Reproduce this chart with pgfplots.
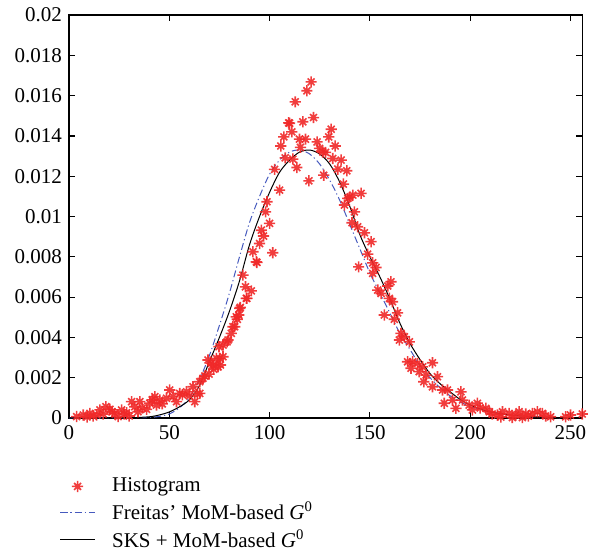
\documentclass[border=0pt]{standalone}
\usepackage{fontspec}
\setmainfont{Liberation Serif}
\usepackage{pgfplots}
\pgfplotsset{compat=1.18}
\definecolor{histred}{RGB}{240,40,40}
\definecolor{frblue}{RGB}{70,90,190}
\pgfdeclareplotmark{ast8}{%
  \pgfpathmoveto{\pgfqpoint{-\pgfplotmarksize}{0pt}}%
  \pgfpathlineto{\pgfqpoint{\pgfplotmarksize}{0pt}}%
  \pgfpathmoveto{\pgfqpoint{0pt}{-\pgfplotmarksize}}%
  \pgfpathlineto{\pgfqpoint{0pt}{\pgfplotmarksize}}%
  \pgfpathmoveto{\pgfqpoint{-0.62\pgfplotmarksize}{-0.62\pgfplotmarksize}}%
  \pgfpathlineto{\pgfqpoint{0.62\pgfplotmarksize}{0.62\pgfplotmarksize}}%
  \pgfpathmoveto{\pgfqpoint{-0.62\pgfplotmarksize}{0.62\pgfplotmarksize}}%
  \pgfpathlineto{\pgfqpoint{0.62\pgfplotmarksize}{-0.62\pgfplotmarksize}}%
  \pgfusepathqstroke}
\begin{document}
\begin{tikzpicture}
\begin{axis}[
  scale only axis,
  width=256.75pt, height=201.5pt,
  xmin=0, xmax=256, ymin=0, ymax=0.02,
  xtick={0,50,100,150,200,250},
  ytick={0,0.002,0.004,0.006,0.008,0.01,0.012,0.014,0.016,0.018,0.02},
  yticklabels={0,0.002,0.004,0.006,0.008,0.01,0.012,0.014,0.016,0.018,0.02},
  scaled y ticks=false,
  tick align=inside,
  major tick length=3.2pt,
  tick style={black, line width=0.6pt},
  axis line style={line width=0.6pt},
  xtick pos=both, ytick pos=both,
  ticklabel style={font=\fontsize{10.5}{12}\selectfont},
  /pgf/number format/assume math mode=true,
  legend style={at={(-0.03,-0.128)}, anchor=north west, draw=none, fill=none,
    font=\fontsize{10.5}{12}\selectfont, row sep=-0.5pt, column sep=6.5pt},
  legend cell align=left,
]
\addplot[only marks, mark=ast8, mark size=2.8pt, histred, line width=0.8pt, opacity=0.9] coordinates {
(3.8,0.00007) (7.1,0.00015) (9,0.00005) (10.4,0.00023) (12,0.0001) (13.8,0.00015)
(15.4,0.0004) (17,0.0002) (18.4,0.00056) (20.4,0.00043) (21.5,0.0003) (22.9,0.00023)
(24.5,0.00007) (26.2,0.0004) (27.5,0.0002) (28.7,0.00026) (30,0.0001) (31.2,0.00081)
(32.8,0.00056) (34.4,0.00031) (35.3,0.00081) (36.5,0.0005) (38.7,0.00043) (40.3,0.00073)
(41.5,0.0009) (42.8,0.00106) (43.6,0.00064) (45.3,0.00089) (46.5,0.0007) (48.6,0.00098)
(50.2,0.00139) (51.9,0.00106) (53.6,0.00081) (55.2,0.00122) (56.5,0.00115) (58.6,0.0013)
(60,0.0011) (61.8,0.00155) (62.7,0.00081) (64,0.0012) (65.2,0.00122) (65.2,0.0018)
(66.8,0.00197) (67.7,0.00208) (69.3,0.00288) (69.8,0.00218) (71,0.00271) (71.8,0.00263)
(72.1,0.00242) (73.5,0.00296) (74.3,0.00254) (74.8,0.00354) (75.1,0.00296) (75.5,0.00263)
(76.8,0.00362) (76.8,0.00304) (78.8,0.00378) (79.3,0.00387) (80.9,0.0042) (81.7,0.00453)
(82.6,0.00453) (83.4,0.00502) (83.9,0.0049) (84.7,0.00511) (85.1,0.00544) (85.4,0.00549)
(86.7,0.00709) (88,0.00651) (88.4,0.00594) (88.7,0.00594) (90.9,0.00631) (91.7,0.00825)
(93.4,0.00775) (93.7,0.00772) (95,0.00866) (95.9,0.00932) (97,0.00903) (98,0.01023)
(98.7,0.01073) (100,0.00966) (101.6,0.0082) (102.5,0.01234) (105,0.01131) (105.6,0.0135)
(107.1,0.01395) (107.8,0.01291) (109.5,0.01465) (110,0.01463) (111.1,0.0142) (111.6,0.01285)
(112.8,0.01569) (113.6,0.01243) (114.9,0.01384) (115.4,0.01343) (116.6,0.0147) (117.9,0.01384)
(118.6,0.01624) (119.6,0.01177) (120.7,0.01668) (121.9,0.01491) (123.7,0.0137) (124.9,0.01338)
(126.5,0.0132) (127,0.01205) (127.9,0.01318) (129.5,0.01395) (130.7,0.01433) (131.5,0.01288)
(132.7,0.0135) (134,0.01235) (135.7,0.0128) (136.8,0.01161) (137.3,0.01057) (138.5,0.01227)
(139,0.0109) (139.8,0.01095) (141.1,0.00969) (141.5,0.01106) (142.3,0.01023) (143.9,0.00949)
(144.4,0.0075) (145.6,0.01115) (147.3,0.00919) (148.9,0.00813) (150.6,0.00875) (151.4,0.0077)
(151.4,0.00718) (153.1,0.00747) (153.9,0.00635) (155.6,0.00618) (157.2,0.00511) (158.9,0.00655)
(159.7,0.00594) (160.5,0.00676) (161.3,0.00577) (162.2,0.0049) (163.8,0.00522) (164.7,0.00387)
(165.5,0.0042) (167.2,0.00403) (168.8,0.00279) (169.7,0.00378) (170.5,0.00247) (171.3,0.00279)
(173.8,0.00271) (174.6,0.0023) (176.3,0.00254) (176.9,0.0018) (178,0.00213) (181.2,0.00274)
(181.2,0.00155) (183.7,0.00205) (186.2,0.00139) (187.1,0.00073) (188.7,0.00139) (191.2,0.00089)
(192.9,0.00048) (195.4,0.0013) (196.2,0.00089) (199.5,0.00064) (201.1,0.0004) (203.6,0.00073)
(205,0.0005) (207.8,0.00048) (209.5,0.00031) (211,0.0002) (213.6,0.00015) (215.3,0.00005)
(216.1,0.00031) (219.4,0.00023) (221,0.00002) (222.7,0.00015) (224.4,0.00031) (226,0.00002)
(227.7,0.0002) (229,0.0001) (231,0.00023) (233.5,0.00031) (236,0.00023) (237.7,0.0001)
(240.1,0.00006) (247.6,0.00006) (250,0.00015) (255.9,0.0002)
};
\addlegendentry{Histogram}
\addplot[frblue, line width=0.5pt, dash pattern=on 3.5pt off 1.5pt on 0.6pt off 1.5pt, smooth, tension=0.5] coordinates {
(0,0) (20,0) (30,0.00001) (40,0.00003) (45,0.00008) (50,0.0002) (55,0.0005) (60,0.0010)
(65,0.0019) (70,0.0031) (75,0.0046) (80,0.0062) (85,0.0080) (90,0.0097) (95,0.0110)
(100,0.0121) (105,0.0128) (110,0.0132) (115,0.0133) (120,0.0131) (125,0.0126) (130,0.0118)
(135,0.0108) (140,0.0096) (145,0.0084) (150,0.0072) (155,0.0062) (160,0.0052) (165,0.0042)
(170,0.0034) (175,0.0026) (180,0.0020) (185,0.0015) (190,0.0011) (195,0.0008) (200,0.00058)
(210,0.0003) (220,0.00015) (230,0.00007) (240,0.00003) (245,0.00001)
};
\addlegendentry{Freitas' MoM-based \textit{G}\textsuperscript{0}}
\addplot[black, line width=0.5pt, smooth, tension=0.5] coordinates {
(0,0) (20,0) (30,0.00001) (40,0.00006) (45,0.00015) (50,0.0003) (55,0.00055) (60,0.0009)
(65,0.0016) (70,0.0028) (75,0.0040) (80,0.0053) (85,0.0068) (90,0.0086) (95,0.0100)
(100,0.0112) (105,0.0122) (110,0.0128) (115,0.0132) (120,0.0133) (125,0.0131) (130,0.0126)
(135,0.0117) (140,0.0105) (145,0.0091) (150,0.0080) (155,0.0070) (160,0.0059) (165,0.0047)
(170,0.0037) (175,0.0029) (180,0.0022) (185,0.0017) (190,0.0013) (195,0.00092) (200,0.00065)
(205,0.00045) (210,0.0003) (220,0.00015) (230,0.00007) (240,0.00003) (250,0.00001)
};
\addlegendentry{SKS + MoM-based \textit{G}\textsuperscript{0}}
\end{axis}
\pgfresetboundingbox
\path (-34.5pt,-67.5pt) rectangle (261pt,209pt);
\end{tikzpicture}
\end{document}
